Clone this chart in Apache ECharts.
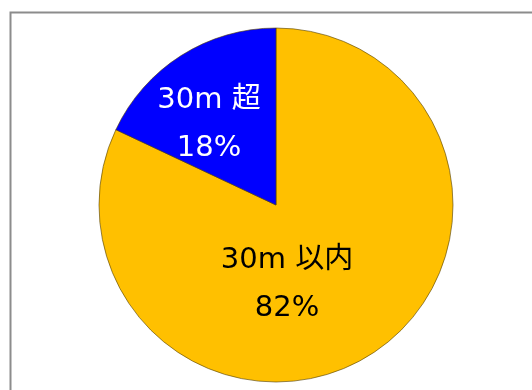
<!DOCTYPE html>
<html><head><meta charset="utf-8">
<script src="https://cdn.jsdelivr.net/npm/echarts@6/dist/echarts.min.js"></script>
<style>html,body{margin:0;padding:0;background:#fff}#c{width:532px;height:390px}</style>
</head><body><div id="c"></div>
<script>
const categories = ['30m 以内', '30m 超'];
const values = [82, 18];
const colors = ['#FFC000', '#0000FF'];
const textColors = ['#000000', '#ffffff'];
const labelShift = [[-38, 2], [-18, -3]];

const chart = echarts.init(document.getElementById('c'), null, {renderer: 'canvas'});
chart.setOption({
  animation: false,
  graphic: [{
    type: 'rect', shape: {x: 10.5, y: 12.5, width: 540, height: 400},
    style: {fill: 'none', stroke: '#8c8c8c', lineWidth: 2}, silent: true
  }],
  series: [{
    type: 'pie',
    center: [276, 205],
    radius: 177,
    startAngle: 90,
    clockwise: true,
    data: categories.map((c, i) => ({
      name: c, value: values[i],
      itemStyle: {color: colors[i]},
      label: {color: textColors[i]}
    })),
    itemStyle: {borderColor: 'rgba(80,60,0,0.6)', borderWidth: 1},
    label: {
      show: true, position: 'inside',
      formatter: p => p.name + '\n' + p.value + '%',
      fontFamily: '"DejaVu Sans", "Noto Sans CJK JP", sans-serif',
      fontSize: 29, lineHeight: 48, align: 'center'
    },
    labelLine: {show: false},
    labelLayout: p => ({dx: labelShift[p.dataIndex][0], dy: labelShift[p.dataIndex][1]})
  }]
});
</script></body></html>
